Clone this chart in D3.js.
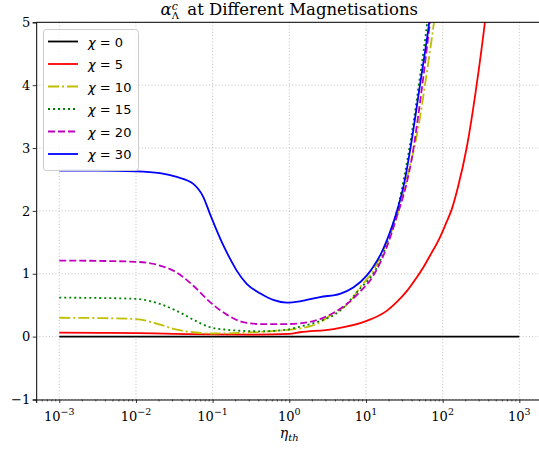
<!DOCTYPE html>
<html>
<head>
<meta charset="utf-8">
<script src="https://cdn.jsdelivr.net/npm/d3@7/dist/d3.min.js"></script>
<style>
  html, body { margin: 0; padding: 0; background: #fff; }
  svg { display: block; overflow: hidden; }
</style>
</head>
<body>
<svg id="chart" width="539" height="451"></svg>
<script>
// ---------------- data (log10 of eta_th, and alpha values) ----------------
const chiLabels = ["0", "5", "10", "15", "20", "30"];

const logEtaChi0 = [-3, 3];
const valChi0    = [0, 0];

const logEtaChi5 = [-3, -2.5, -2, -1.5, -1, -0.5, 0, 0.14, 0.574, 1.01, 1.27, 1.4, 1.53, 1.65, 1.747, 1.85, 1.965, 2.05, 2.117, 2.2, 2.313, 2.443, 2.551, 2.65, 3];
const valChi5    = [0.065, 0.06, 0.055, 0.045, 0.035, 0.032, 0.045, 0.07, 0.12, 0.25, 0.41, 0.55, 0.72, 0.92, 1.10, 1.32, 1.58, 1.82, 2.02, 2.38, 3.0, 4.0, 5.0, 6.1, 11];

const logEtaChi10 = [-3, -2.5, -2, -1.686, -1.468, -1.252, -1.034, -0.6, -0.2, 0.01, 0.357, 0.574, 0.79, 0.92, 1.095, 1.27, 1.4, 1.5, 1.57, 1.639, 1.7, 1.769, 1.83, 1.887, 2.0];
const valChi10    = [0.30, 0.295, 0.28, 0.19, 0.11, 0.07, 0.05, 0.06, 0.09, 0.11, 0.20, 0.37, 0.55, 0.78, 1.05, 1.5, 1.9, 2.35, 2.7, 3.05, 3.45, 4.0, 4.5, 5.0, 6.2];

const logEtaChi15 = [-3, -2.5, -2, -1.686, -1.468, -1.252, -1.034, -0.816, -0.382, -0.034, 0.14, 0.357, 0.66, 0.92, 1.12, 1.25, 1.35, 1.434, 1.5, 1.6, 1.7, 1.80, 1.92];
const valChi15    = [0.62, 0.615, 0.60, 0.52, 0.41, 0.27, 0.15, 0.11, 0.085, 0.11, 0.16, 0.23, 0.41, 0.76, 1.05, 1.4, 1.78, 2.15, 2.55, 3.25, 4.1, 5.0, 6.3];

const logEtaChi20 = [-3, -2.5, -2, -1.686, -1.468, -1.252, -1.034, -0.816, -0.6, -0.382, -0.034, 0.14, 0.40, 0.66, 0.92, 1.095, 1.27, 1.40, 1.53, 1.6, 1.68, 1.75, 1.82, 1.95];
const valChi20    = [1.21, 1.205, 1.19, 1.13, 1.02, 0.81, 0.55, 0.35, 0.23, 0.20, 0.20, 0.21, 0.28, 0.44, 0.71, 0.97, 1.42, 1.90, 2.44, 2.85, 3.5, 4.15, 4.85, 6.2];

const logEtaChi30 = [-3, -2.5, -2, -1.686, -1.468, -1.252, -1.121, -1.034, -0.947, -0.86, -0.773, -0.686, -0.556, -0.382, -0.2, -0.034, 0.14, 0.40, 0.66, 0.834, 1.009, 1.1, 1.2, 1.3, 1.4, 1.5, 1.6, 1.704, 1.825, 1.95];
const valChi30    = [2.64, 2.64, 2.63, 2.60, 2.54, 2.43, 2.22, 1.95, 1.69, 1.45, 1.24, 1.05, 0.84, 0.69, 0.58, 0.54, 0.56, 0.63, 0.68, 0.78, 0.97, 1.12, 1.33, 1.62, 1.98, 2.45, 3.15, 4.0, 5.0, 6.3];

const xTickExps = [-3, -2, -1, 0, 1, 2, 3];
const yTicks = [-1, 0, 1, 2, 3, 4, 5];

// ---------------- styling ----------------
const series = [
  { label: chiLabels[0], le: logEtaChi0,  v: valChi0,  color: "#000000", dash: null },
  { label: chiLabels[1], le: logEtaChi5,  v: valChi5,  color: "#ff0000", dash: null },
  { label: chiLabels[2], le: logEtaChi10, v: valChi10, color: "#bfbf00", dash: "11,3,2,3" },
  { label: chiLabels[3], le: logEtaChi15, v: valChi15, color: "#008000", dash: "2,3" },
  { label: chiLabels[4], le: logEtaChi20, v: valChi20, color: "#bf00bf", dash: "7,3" },
  { label: chiLabels[5], le: logEtaChi30, v: valChi30, color: "#0000ff", dash: null }
];

const svg = d3.select("#chart");
const L = 36.2, R = 542.4, T = 22.3, B = 399.5;

const x = d3.scaleLog().domain([5e-4, 2000]).range([L, R]);
const y = d3.scaleLinear().domain([-1, 5]).range([B, T]);

svg.append("defs").append("clipPath").attr("id", "clip")
  .append("rect").attr("x", L).attr("y", T).attr("width", R - L).attr("height", B - T);

// grid
const grid = svg.append("g");
xTickExps.forEach(e => {
  grid.append("line").attr("x1", x(Math.pow(10, e))).attr("x2", x(Math.pow(10, e)))
    .attr("y1", T).attr("y2", B)
    .attr("stroke", "#b0b0b0").attr("stroke-width", 0.8).attr("stroke-dasharray", "1,2.2");
});
yTicks.forEach(t => {
  grid.append("line").attr("x1", L).attr("x2", R).attr("y1", y(t)).attr("y2", y(t))
    .attr("stroke", "#b0b0b0").attr("stroke-width", 0.8).attr("stroke-dasharray", "1,2.2");
});

// lines
const line = d3.line()
  .x(d => x(Math.pow(10, d[0])))
  .y(d => y(d[1]))
  .curve(d3.curveMonotoneX);

const lines = svg.append("g").attr("clip-path", "url(#clip)");
series.forEach(s => {
  const pts = s.le.map((e, i) => [e, s.v[i]]);
  lines.append("path").datum(pts).attr("d", line)
    .attr("fill", "none").attr("stroke", s.color).attr("stroke-width", 1.8)
    .attr("stroke-dasharray", s.dash);
});

// x axis
const xAxisG = svg.append("g").attr("transform", `translate(0,${B})`);
const xAxis = d3.axisBottom(x).tickValues(xTickExps.map(e => Math.pow(10, e)))
  .tickSize(3.5).tickFormat("");
xAxisG.call(xAxis);
const minor = [];
for (let e = -4; e <= 3; e++) for (let m = 2; m <= 9; m++) {
  const v = m * Math.pow(10, e);
  if (v >= 5e-4 && v <= 2000) minor.push(v);
}
xAxisG.call(g => g.selectAll(".minor").data(minor).enter().append("line")
  .attr("class", "minor").attr("x1", d => x(d)).attr("x2", d => x(d))
  .attr("y1", 0).attr("y2", 2).attr("stroke", "#000").attr("stroke-width", 0.6));
xAxisG.select(".domain").attr("stroke-width", 1);
xAxisG.selectAll(".tick line").attr("stroke-width", 0.8);

xTickExps.forEach(e => {
  const t = svg.append("text").attr("x", x(Math.pow(10, e))).attr("y", 420.5)
    .attr("text-anchor", "middle").attr("font-family", "DejaVu Serif").attr("font-size", 13);
  t.append("tspan").text("10");
  t.append("tspan").attr("dy", -6).attr("font-size", 9.5).text(e < 0 ? "\u2212" + (-e) : String(e));
});

// y axis
const yAxisG = svg.append("g").attr("transform", `translate(${L},0)`);
yAxisG.call(d3.axisLeft(y).tickValues(yTicks).tickSize(3.5)
  .tickFormat(d => d < 0 ? "\u2212" + (-d) : String(d)));
yAxisG.select(".domain").attr("stroke-width", 1);
yAxisG.selectAll(".tick line").attr("stroke-width", 0.8);
yAxisG.selectAll(".tick text").attr("font-family", "DejaVu Serif").attr("font-size", 13)
  .attr("fill", "#000").attr("x", -6);

// top & right spines
svg.append("line").attr("x1", L).attr("x2", R).attr("y1", T).attr("y2", T)
  .attr("stroke", "#000").attr("stroke-width", 1);
svg.append("line").attr("x1", R).attr("x2", R).attr("y1", T).attr("y2", B)
  .attr("stroke", "#000").attr("stroke-width", 1);

// title
const title = svg.append("text").attr("x", (L + R) / 2).attr("y", 15)
  .attr("text-anchor", "middle").attr("font-family", "DejaVu Serif").attr("font-size", 16.5);
title.append("tspan").attr("font-style", "italic").text("\u03b1");
title.append("tspan").attr("font-style", "italic").attr("font-size", 11).attr("dy", -5).text("c");
title.append("tspan").attr("font-size", 10).attr("dx", -6).attr("dy", 8.5).text("\u039b");
title.append("tspan").attr("dy", -3.5).text("\u2002at Different Magnetisations");

// x label
const xl = svg.append("text").attr("x", (L + R) / 2).attr("y", 438)
  .attr("text-anchor", "middle").attr("font-family", "DejaVu Serif").attr("font-size", 14);
xl.append("tspan").attr("font-style", "italic").text("\u03b7");
xl.append("tspan").attr("font-style", "italic").attr("font-size", 10).attr("dy", 3).text("th");

// legend
const lg = svg.append("g");
lg.append("rect").attr("x", 43.5).attr("y", 29.5).attr("width", 95).attr("height", 141)
  .attr("rx", 3).attr("fill", "#fff").attr("fill-opacity", 0.8)
  .attr("stroke", "#cccccc").attr("stroke-width", 1);
series.forEach((s, i) => {
  const yy = 41.5 + i * 22.5;
  lg.append("line").attr("x1", 48).attr("x2", 78).attr("y1", yy).attr("y2", yy)
    .attr("stroke", s.color).attr("stroke-width", 1.8).attr("stroke-dasharray", s.dash);
  const t = lg.append("text").attr("x", 88).attr("y", yy + 5)
    .attr("font-family", "DejaVu Sans").attr("font-size", 13).attr("fill", "#000");
  t.append("tspan").attr("font-style", "italic").text("\u03c7");
  t.append("tspan").text(" = " + s.label);
});
</script>
</body>
</html>
